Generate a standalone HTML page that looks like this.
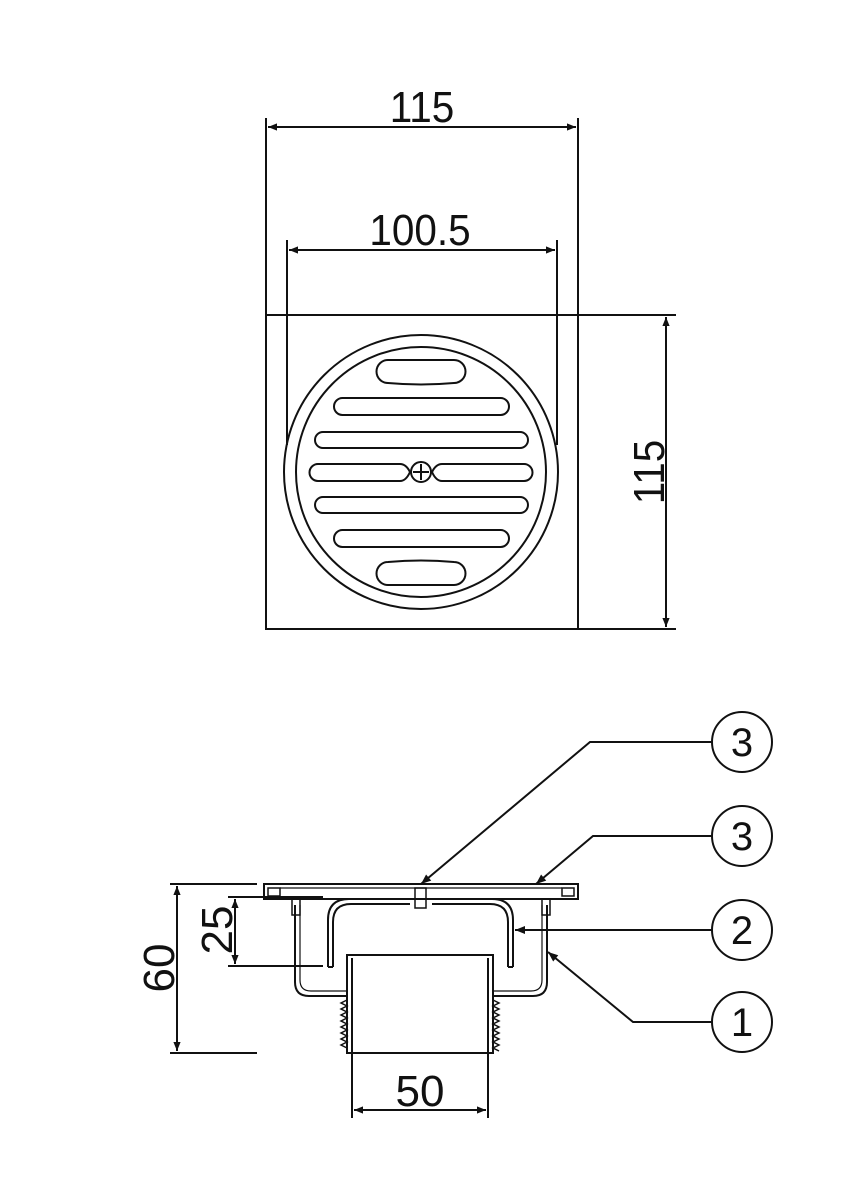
<!DOCTYPE html>
<html><head><style>html,body{margin:0;padding:0;background:#fff}svg{display:block}</style></head>
<body>
<svg width="864" height="1184" viewBox="0 0 864 1184" xmlns="http://www.w3.org/2000/svg" font-family="Liberation Sans, sans-serif">
<defs>
<marker id="a" viewBox="0 0 10 10" refX="10" refY="5" markerWidth="16" markerHeight="9" markerUnits="userSpaceOnUse" orient="auto-start-reverse"><path d="M0,1 L10,5 L0,9 z" fill="#111"/></marker>
<marker id="b" viewBox="0 0 10 10" refX="10" refY="5" markerWidth="18" markerHeight="10" markerUnits="userSpaceOnUse" orient="auto"><path d="M0,1 L10,5 L0,9 z" fill="#111"/></marker>
</defs>
<g stroke="#111" stroke-width="2" fill="none">
<rect x="266" y="315" width="312" height="314"/>
<line x1="266" y1="118" x2="266" y2="315"/><line x1="578" y1="118" x2="578" y2="315"/>
<line x1="268" y1="127" x2="576" y2="127" marker-start="url(#a)" marker-end="url(#a)"/>
<line x1="287" y1="240" x2="287" y2="445"/><line x1="557" y1="240" x2="557" y2="445"/>
<line x1="289" y1="250" x2="555" y2="250" marker-start="url(#a)" marker-end="url(#a)"/>
<line x1="578" y1="315" x2="676" y2="315"/><line x1="578" y1="629" x2="676" y2="629"/>
<line x1="666" y1="317" x2="666" y2="627" marker-start="url(#a)" marker-end="url(#a)"/>
<circle cx="421" cy="472" r="137"/>
<circle cx="421" cy="472" r="125"/>
<path d="M388,360 H454 A11.5,11.5 0 0 1 454,383 Q421,386 388,383 A11.5,11.5 0 0 1 388,360z"/>
<path d="M388,585 H454 A11.5,11.5 0 0 0 454,562 Q421,559 388,562 A11.5,11.5 0 0 0 388,585z"/>
<rect x="334" y="398" width="175" height="17" rx="8.5"/>
<rect x="334" y="530" width="175" height="17" rx="8.5"/>
<rect x="315" y="432" width="213" height="16" rx="8"/>
<rect x="315" y="497" width="213" height="16" rx="8"/>
<path d="M318,464 H400 Q406,464 410,472 Q406,481 400,481 H318 A8.5,8.5 0 0 1 318,464z"/>
<path d="M524,464 H442 Q436,464 432,472 Q436,481 442,481 H524 A8.5,8.5 0 0 0 524,464z"/>
<circle cx="421" cy="472" r="10"/>
<line x1="421" y1="464" x2="421" y2="480"/><line x1="413" y1="472" x2="429" y2="472"/>
<line x1="170" y1="884" x2="257" y2="884"/><line x1="170" y1="1053" x2="257" y2="1053"/>
<line x1="177" y1="886" x2="177" y2="1051" marker-start="url(#a)" marker-end="url(#a)"/>
<line x1="228" y1="897" x2="323" y2="897"/><line x1="228" y1="966" x2="323" y2="966"/>
<line x1="235" y1="899" x2="235" y2="964" marker-start="url(#a)" marker-end="url(#a)"/>
<line x1="352" y1="1053" x2="352" y2="1118"/><line x1="488" y1="1053" x2="488" y2="1118"/>
<line x1="354" y1="1110" x2="486" y2="1110" marker-start="url(#a)" marker-end="url(#a)"/>
<rect x="264" y="884" width="314" height="15"/>
<line x1="280" y1="888" x2="562" y2="888" stroke-width="1.2"/>
<rect x="268" y="888" width="12" height="8" stroke-width="1.5"/>
<rect x="562" y="888" width="12" height="8" stroke-width="1.5"/>
<path d="M295,905 V982 Q295,996 309,996 H347"/>
<path d="M300,905 V980 Q300,991 311,991 H347" stroke-width="1.2"/>
<path d="M547,905 V982 Q547,996 533,996 H493"/>
<path d="M542,905 V980 Q542,991 531,991 H493" stroke-width="1.2"/>
<rect x="292" y="899" width="8" height="16" stroke-width="1.5"/>
<rect x="542" y="899" width="8" height="16" stroke-width="1.5"/>
<path d="M328,967 V920 Q328,899 349,899 H410"/>
<path d="M333,967 V922 Q333,904 351,904 H410"/>
<line x1="328" y1="967" x2="333" y2="967"/>
<path d="M513,967 V920 Q513,899 492,899 H432"/>
<path d="M508,967 V922 Q508,904 490,904 H432"/>
<line x1="508" y1="967" x2="513" y2="967"/>
<rect x="415" y="888" width="11" height="20" stroke-width="1.5"/>
<path d="M347,1053 V955 H493 V1053 Z"/>
<line x1="352" y1="958" x2="352" y2="1053"/><line x1="488" y1="958" x2="488" y2="1053"/>
<path d="M347,1000 l-6,3 l6,3 l-6,3 l6,3 l-6,3 l6,3 l-6,3 l6,3 l-6,3 l6,3 l-6,3 l6,3 l-6,3 l6,3 l-6,3 l6,3" stroke-width="1.5"/>
<path d="M493,1000 l6,3 l-6,3 l6,3 l-6,3 l6,3 l-6,3 l6,3 l-6,3 l6,3 l-6,3 l6,3 l-6,3 l6,3 l-6,3 l6,3 l-6,3 l6,3" stroke-width="1.5"/>
<circle cx="742" cy="742" r="30"/><circle cx="742" cy="836" r="30"/>
<circle cx="742" cy="930" r="30"/><circle cx="742" cy="1022" r="30"/>
<polyline points="712,742 590,742 421,884" marker-end="url(#b)"/>
<polyline points="712,836 593,836 536,884" marker-end="url(#b)"/>
<polyline points="712,930 515,930" marker-end="url(#b)"/>
<polyline points="712,1022 633,1022 548,952" marker-end="url(#b)"/>
</g>
<g fill="#111" font-size="44" text-anchor="middle">
<text transform="translate(422,122) scale(0.92,1)">115</text>
<text transform="translate(420,245) scale(0.92,1)">100.5</text>
<text transform="translate(664,472) rotate(-90) scale(0.92,1)">115</text>
<text transform="translate(174,968) rotate(-90)">60</text>
<text transform="translate(232,930) rotate(-90)">25</text>
<text x="420" y="1106">50</text>
<g font-size="40"><text x="742" y="756">3</text><text x="742" y="850">3</text><text x="742" y="944">2</text><text x="742" y="1036">1</text></g>
</g>
</svg>
</body></html>
